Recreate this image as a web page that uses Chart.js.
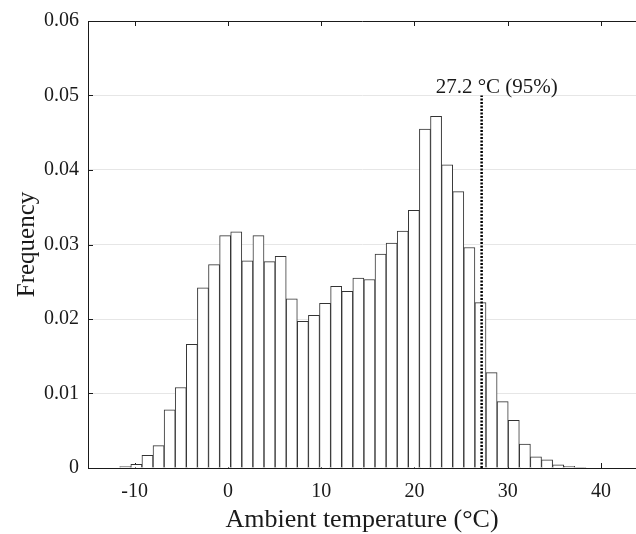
<!DOCTYPE html>
<html>
<head>
<meta charset="utf-8">
<script src="https://cdn.jsdelivr.net/npm/chart.js@4.4.1/dist/chart.umd.min.js"></script>
<style>
  html, body { margin: 0; padding: 0; background: #fff; }
</style>
</head>
<body>
<canvas id="myHist" width="636" height="534"></canvas>
<script>
// histogram bins (deg C), bar heights
var binStart = -11.6;
var binWidth = 1.19;
var freq = [
  0.0002, 0.0005, 0.0017, 0.0030, 0.0078, 0.0108, 0.0166, 0.0242, 0.0273, 0.0312,
  0.0317, 0.0278, 0.0312, 0.0277, 0.0284, 0.0227, 0.0197, 0.0205, 0.0221, 0.0244,
  0.0237, 0.0255, 0.0253, 0.0287, 0.0302, 0.0318, 0.0346, 0.0455, 0.0472, 0.0407,
  0.0371, 0.0296, 0.0222, 0.0128, 0.0089, 0.0064, 0.0032, 0.0015, 0.0011, 0.00044,
  0.00022, 0.0001
];
var xTicks = [-10, 0, 10, 20, 30, 40];
var yTicks = [0, 0.01, 0.02, 0.03, 0.04, 0.05, 0.06];
var p95 = 27.2;
var p95Top = 0.05;
var p95Label = '27.2 °C (95%)';

var serif = "'Liberation Serif', 'Times New Roman', serif";
var ink = '#1a1a1a';

var barData = [];
for (var i = 0; i < freq.length; i++) {
  barData.push({x: binStart + binWidth * (i + 0.5), y: freq[i]});
}

// inward tick marks like matlab
var tickMarks = {
  id: 'tickMarks',
  beforeDatasetsDraw: function(chart) {
    var ctx = chart.ctx, a = chart.chartArea;
    var xs = chart.scales.x, ys = chart.scales.y;
    ctx.save();
    ctx.strokeStyle = ink;
    ctx.lineWidth = 1;
    ctx.beginPath();
    xTicks.forEach(function(v) {
      var px = Math.round(xs.getPixelForValue(v)) + 0.5;
      ctx.moveTo(px, a.bottom); ctx.lineTo(px, a.bottom - 5);
      ctx.moveTo(px, a.top); ctx.lineTo(px, a.top + 5);
    });
    yTicks.forEach(function(v) {
      var py = Math.round(ys.getPixelForValue(v)) + 0.5;
      ctx.moveTo(a.left, py); ctx.lineTo(a.left + 5, py);
    });
    ctx.stroke();
    ctx.restore();
  },
  afterDatasetsDraw: function(chart) {
    var ctx = chart.ctx;
    var px = chart.scales.x.getPixelForValue(p95);
    var py = chart.scales.y.getPixelForValue(p95Top);
    ctx.save();
    ctx.font = '21px ' + serif;
    ctx.fillStyle = ink;
    ctx.textAlign = 'left';
    ctx.textBaseline = 'alphabetic';
    ctx.fillText(p95Label, px - 46, py - 2.5);
    ctx.restore();
  }
};

var ctx = document.getElementById('myHist');
var histChart = new Chart(ctx, {
  type: 'bar',
  data: {
    datasets: [
      {
        type: 'line',
        data: [{x: p95, y: 0}, {x: p95, y: p95Top}],
        borderColor: '#000',
        borderWidth: 2.5,
        borderDash: [2, 1.5],
        pointRadius: 0,
        order: 0
      },
      {
        data: barData,
        backgroundColor: '#fff',
        borderColor: '#333',
        borderWidth: 1,
        barPercentage: 1,
        categoryPercentage: 1,
        order: 1
      }
    ]
  },
  options: {
    responsive: false,
    animation: false,
    devicePixelRatio: 1,
    layout: { padding: { top: 19, right: 0, left: 0, bottom: 0 } },
    plugins: { legend: { display: false }, tooltip: { enabled: false } },
    scales: {
      x: {
        type: 'linear',
        position: 'bottom',
        offset: false,
        min: -15,
        max: 43.75,
        grid: { display: false },
        border: { display: true, color: ink, width: 1 },
        afterBuildTicks: function(s) { s.ticks = xTicks.map(function(v) { return {value: v}; }); },
        ticks: { color: ink, font: { family: serif, size: 20 }, padding: 4, maxRotation: 0 },
        title: { display: true, text: 'Ambient temperature (°C)', color: ink,
                 font: { family: serif, size: 26 }, padding: { top: 0, bottom: -2 } },
        afterFit: function(s) { s.height = 66; }
      },
      x2: {
        type: 'linear',
        position: 'top',
        offset: false,
        min: -15,
        max: 43.75,
        grid: { display: false },
        border: { display: true, color: ink, width: 1 },
        ticks: { display: false },
        afterFit: function(s) { s.height = 0; }
      },
      y: {
        min: 0,
        max: 0.06,
        afterBuildTicks: function(s) { s.ticks = yTicks.map(function(v) { return {value: v}; }); },
        ticks: {
          color: ink, font: { family: serif, size: 20 }, padding: 9,
          callback: function(v) { return v === 0 ? '0' : v.toFixed(2); }
        },
        grid: {
          drawTicks: false,
          color: function(c) {
            var v = c.tick ? c.tick.value : 0;
            return (v > 0.001 && v < 0.059) ? '#e6e6e6' : 'rgba(0,0,0,0)';
          }
        },
        border: { display: true, color: ink, width: 1 },
        title: { display: true, text: 'Frequency', color: ink,
                 font: { family: serif, size: 25 }, padding: { top: 12, bottom: 0 } },
        afterFit: function(s) { s.width = 88; }
      }
    }
  },
  plugins: [tickMarks]
});
</script>
</body>
</html>
